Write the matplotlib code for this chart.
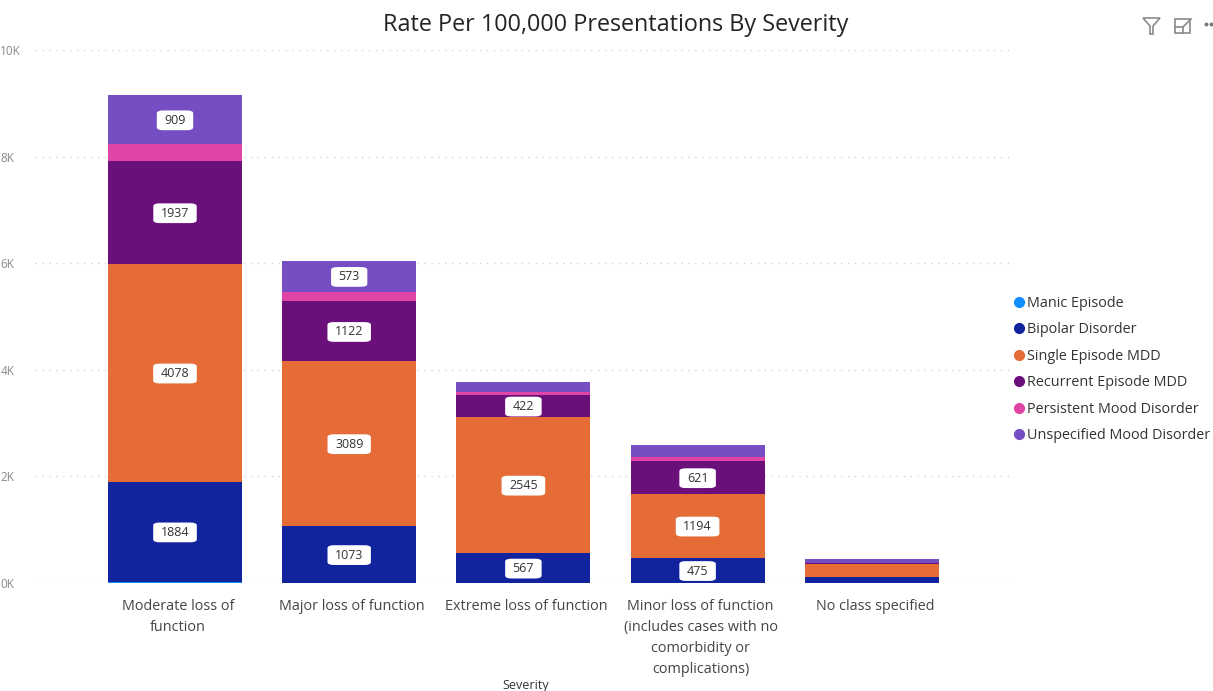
import numpy as np
from matplotlib import pyplot as plt
from matplotlib.lines import Line2D
from matplotlib.patches import Polygon, Rectangle
from matplotlib.transforms import ScaledTranslation

plt.rcParams['font.family'] = ['Open Sans', 'DejaVu Sans']

W, H = 1213, 691

categories = [
    "Moderate loss of\nfunction",
    "Major loss of function",
    "Extreme loss of function",
    "Minor loss of function\n(includes cases with no\ncomorbidity or\ncomplications)",
    "No class specified",
]
series_names = [
    "Manic Episode",
    "Bipolar Disorder",
    "Single Episode MDD",
    "Recurrent Episode MDD",
    "Persistent Mood Disorder",
    "Unspecified Mood Disorder",
]
colors = ["#118DFF", "#12239E", "#E66C37", "#6B0F7B", "#E044A7", "#744EC2"]

manic = [20, 0, 0, 0, 0]
bipolar = [1884, 1073, 567, 475, 110]
single = [4078, 3089, 2545, 1194, 250]
recurrent = [1937, 1122, 422, 621, 15]
persistent = [320, 185, 50, 70, 5]
unspecified = [909, 573, 190, 235, 70]
all_values = [manic, bipolar, single, recurrent, persistent, unspecified]

# segments below this height carry no label
label_min = 400

y_ticks = [0, 2000, 4000, 6000, 8000, 10000]
y_tick_labels = ["0K", "2K", "4K", "6K", "8K", "10K"]

fig = plt.figure(figsize=(W / 100, H / 100), dpi=100)

# axes box in pixels of the picture
left, right, top, bottom = 35, 1015, 50, 583
ax = fig.add_axes([left / W, 1 - bottom / H, (right - left) / W, (bottom - top) / H])
ax.set_xlim((left - 175) / 174.2, (right - 175) / 174.2)
ax.set_ylim(0, 10000)

x = np.arange(len(categories))
base = np.zeros(len(categories))
for name, values, color in zip(series_names, all_values, colors):
    values = np.array(values, dtype=float)
    ax.bar(x, values, width=134 / 174.2, bottom=base, color=color, zorder=3, label=name)
    for xi, b, v in zip(x, base, values):
        if v >= label_min:
            ax.annotate(str(int(v)), (xi, b + v / 2), xytext=(0, -0.5), textcoords="offset points",
                        ha="center", va="center", fontsize=9, color="#333333", zorder=5,
                        bbox=dict(boxstyle="round,pad=0.6,rounding_size=0.5", fc="white", ec="none",
                                  mutation_aspect=0.45))
    base += values

for s in ax.spines.values():
    s.set_visible(False)
ax.set_yticks(y_ticks)
ax.set_yticklabels(y_tick_labels, fontsize=8.5, color="#8a8a8a", ha="left")
ax.tick_params(axis="y", length=0, pad=25)
ax.grid(axis="y", color="#d4d4d4", linestyle=(0, (1, 4)), linewidth=1, zorder=0)
ax.set_axisbelow(True)

ax.set_xticks(x)
ax.set_xticklabels(categories, fontsize=10.4, color="#444444", linespacing=1.54)
ax.tick_params(axis="x", length=0, pad=11.5)
shift = ScaledTranslation(3 / 100, 0, fig.dpi_scale_trans)
for lab in ax.get_xticklabels():
    lab.set_transform(lab.get_transform() + shift)

fig.text(383 / W, 1 - 25 / H, "Rate Per 100,000 Presentations By Severity", fontsize=16.8,
         color="#252423", ha="left", va="center")
fig.text(526 / W, 1 - 685 / H, "Severity", fontsize=9, color="#333333", ha="center", va="center")

handles = [Line2D([], [], linestyle="none", marker="o", markersize=7, color=c) for c in colors]
fig.legend(handles, series_names, loc="center left", bbox_to_anchor=(1009 / W, 1 - 369.5 / H),
           frameon=False, fontsize=10.4, labelcolor="#333333", handletextpad=-0.1,
           labelspacing=0.8, borderpad=0, borderaxespad=0, handlelength=1.37)

# little toolbar icons at the top right
icon = dict(fill=False, ec="#8a8a8a", lw=1.2, transform=fig.transFigure)
funnel = [(1143, 18), (1160, 18), (1153, 26), (1153, 34), (1150, 34), (1150, 26)]
fig.add_artist(Polygon([(a / W, 1 - b / H) for a, b in funnel], closed=True, **icon))
fig.add_artist(Rectangle((1175 / W, 1 - 33 / H), 15 / W, 14 / H, **icon))
fig.add_artist(Line2D([1175 / W, 1183 / W], [1 - 27 / H, 1 - 27 / H], color="#8a8a8a", lw=1.2))
fig.add_artist(Line2D([1183 / W, 1183 / W], [1 - 27 / H, 1 - 33 / H], color="#8a8a8a", lw=1.2))
fig.add_artist(Line2D([1184 / W, 1191 / W], [1 - 26 / H, 1 - 19 / H], color="#8a8a8a", lw=1.2))
fig.add_artist(Line2D([1206 / W, 1211 / W], [1 - 24 / H, 1 - 24 / H], color="#777777", lw=0,
                      marker="o", markersize=1.8))

fig.savefig("out.png", dpi=100)
